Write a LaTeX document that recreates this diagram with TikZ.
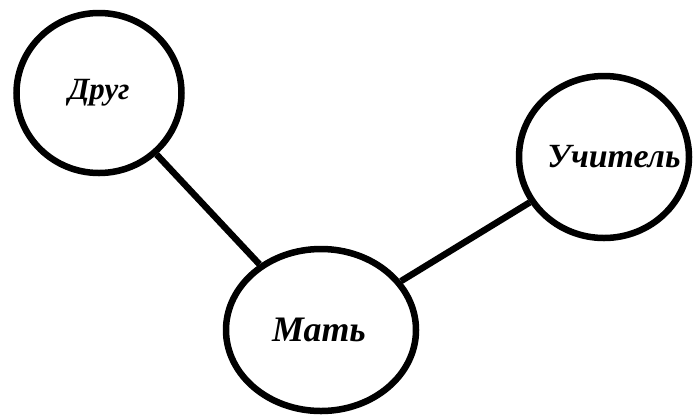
\documentclass[tikz,border=0pt]{standalone}
\usepackage{fontspec}
\setmainfont{Liberation Serif}
\usetikzlibrary{shapes.geometric}
\begin{document}
\begin{tikzpicture}[x=1bp,y=-1bp,
  bubble/.style={draw=black, line width=6.5bp, ellipse, inner sep=0pt},
  word/.style={font=\bfseries\itshape\fontsize{#1}{#1}\selectfont, inner sep=0pt},
  link/.style={line width=6.5bp}]
\useasboundingbox (0,0) rectangle (697,416);
\node[bubble, minimum width=165bp, minimum height=160bp,
  label={[word=31]center:Друг}] (drug) at (99,93) {};
\node[bubble, minimum width=170bp, minimum height=162bp,
  label={[word=34, xshift=10bp]center:Учитель}] (uchitel) at (604,157) {};
\node[bubble, minimum width=190bp, minimum height=162bp,
  label={[word=36, xshift=-2bp]center:Мать}] (mat) at (321,330) {};
\draw[link] (drug) -- (mat);
\draw[link] (mat) -- (uchitel);
\end{tikzpicture}
\end{document}
